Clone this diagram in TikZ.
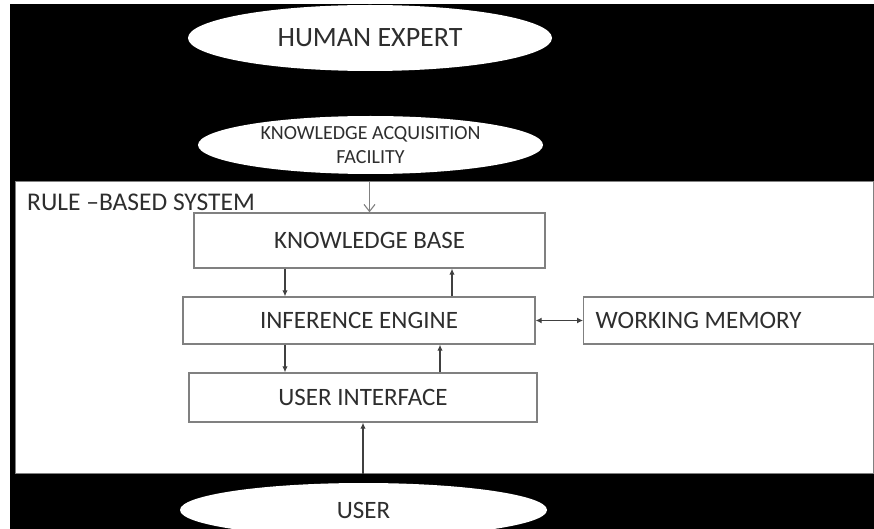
\documentclass[tikz,border=0pt]{standalone}
\usepackage{fontspec}
\setmainfont{Carlito}
\usetikzlibrary{shapes.geometric,arrows.meta}

\definecolor{txt}{HTML}{2E2E2E}
\definecolor{frame}{HTML}{808080}
\definecolor{wire}{HTML}{404040}

\tikzset{
  oval/.style={ellipse, fill=white, draw=none, inner sep=0pt, text=txt},
  block/.style={rectangle, draw=frame, line width=1.4pt, fill=white,
                inner sep=0pt, text=txt, font=\fontsize{25}{30}\selectfont},
  flow/.style={draw=wire, line width=1.1pt, -{Latex[length=6pt,width=5.5pt]}},
  feed/.style={draw=frame, line width=1.1pt, -{Straight Barb[length=7pt,width=11pt]}},
}

\begin{document}
\begin{tikzpicture}[x=1pt,y=-1pt]
\useasboundingbox (0,0) rectangle (874,529);
\clip (0,0) rectangle (874,529);

% dark backdrop
\fill[black] (10,4) rectangle (880,540);

% the rule-based system area
\node[draw=frame, line width=1.2pt, fill=white, inner sep=0pt,
      minimum width=858pt, minimum height=292pt, anchor=north west]
      (region) at (15,181) {};
\node[anchor=west, text=txt, font=\fontsize{25.5}{30}\selectfont, inner sep=0pt]
      (title) at (27,202) {RULE –BASED SYSTEM};

% outer actors
\node[oval, minimum width=364pt, minimum height=66pt,
      font=\fontsize{28}{32}\selectfont] (expert) at (370,38) {HUMAN EXPERT};
\node[oval, minimum width=345pt, minimum height=58pt, align=center,
      font=\fontsize{20}{24}\selectfont] (kaf) at (370.5,145)
      {KNOWLEDGE ACQUISITION\\FACILITY};
\node[oval, minimum width=367pt, minimum height=54pt,
      font=\fontsize{25}{30}\selectfont] (user) at (363.5,510) {USER};

% components
\node[block, minimum width=351pt, minimum height=55pt] (kb) at (369.5,240.5) {KNOWLEDGE BASE};
\node[block, minimum width=352pt, minimum height=47pt] (ie) at (359,320.5) {INFERENCE ENGINE};
\node[block, minimum width=348pt, minimum height=49pt] (ui) at (363,397.5) {USER INTERFACE};
\node[block, minimum height=47pt, text width=300pt, align=flush left, inner xsep=12pt,
      anchor=west] (wm) at (583,320.5) {WORKING MEMORY};

% connectors
\coordinate (kafin) at (kb.north |- region.north);
\coordinate (userin) at (ui.south |- region.south);
\draw[feed] (kafin) -- (kb.north);
\draw[flow] ([xshift=-84.5pt]kb.south) -- ([xshift=-84.5pt]kb.south |- ie.north);
\draw[flow] ([xshift=82.5pt]kb.south |- ie.north) -- ([xshift=82.5pt]kb.south);
\draw[flow] ([xshift=-74pt]ie.south) -- ([xshift=-74pt]ie.south |- ui.north);
\draw[flow] ([xshift=81pt]ie.south |- ui.north) -- ([xshift=81pt]ie.south);
\draw[flow, {Latex[length=6pt,width=6pt]}-{Latex[length=6pt,width=6pt]}] (ie.east) -- (wm.west);
\draw[flow] (userin) -- (ui.south);
\end{tikzpicture}
\end{document}
